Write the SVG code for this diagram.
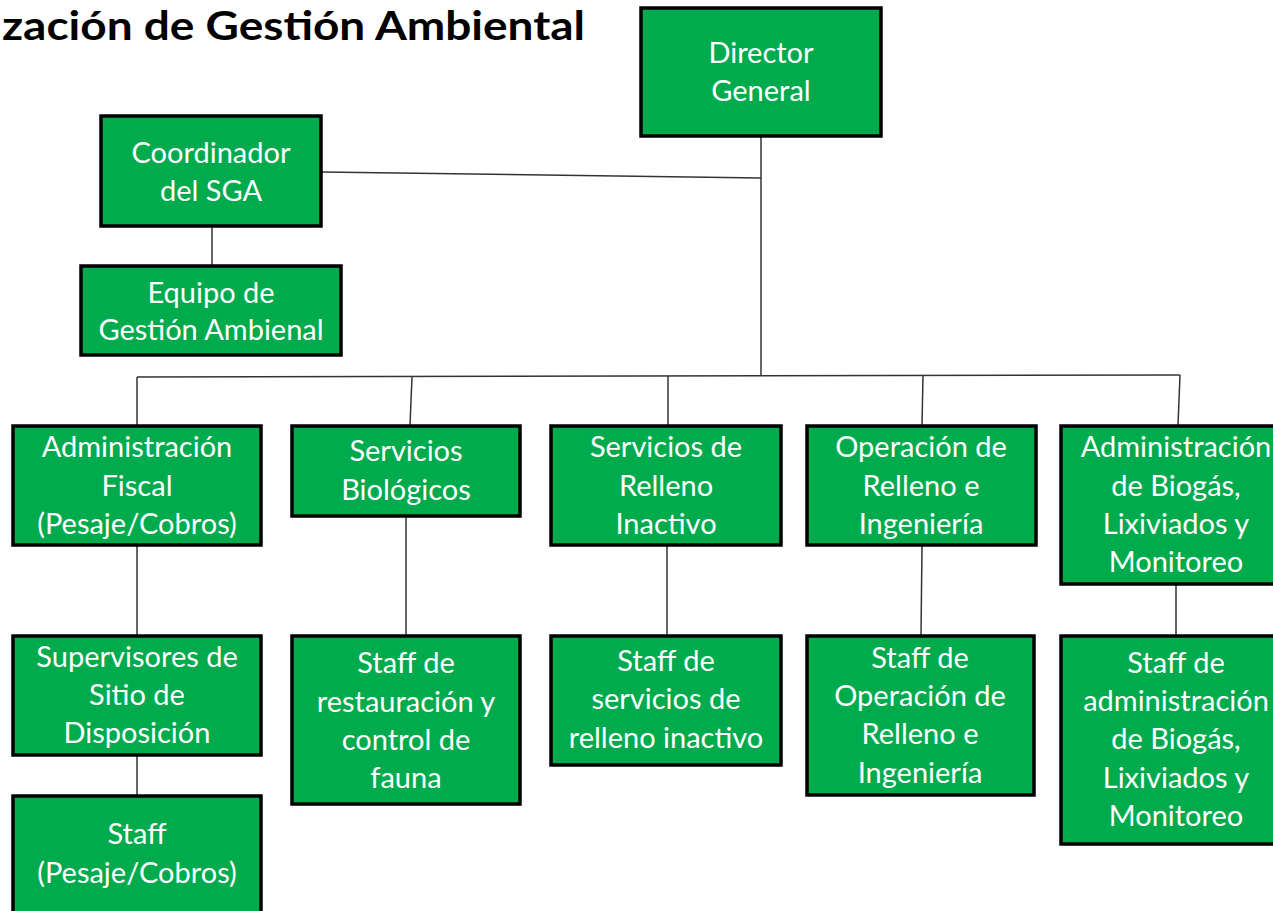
<svg xmlns="http://www.w3.org/2000/svg" width="1273" height="911" viewBox="0 0 1273 911">
<style>
.box{fill:#00AB4E;stroke:#000;stroke-width:3.5}
.t{font-family:Lato,"Open Sans",sans-serif;font-size:29px;fill:#fff;text-anchor:middle}
.title{font-family:Lato,"Open Sans",sans-serif;font-size:40px;font-weight:bold;fill:#000}
.c{stroke:#333;stroke-width:1.5;fill:none}
</style>
<rect width="1273" height="911" fill="#fff"/>
<text class="title" x="2" y="40" textLength="583" lengthAdjust="spacingAndGlyphs">zación de Gestión Ambiental</text>
<g id="connectors">
<path class="c" d="M761 137 V376"/>
<path class="c" d="M322 172 L761 178"/>
<path class="c" d="M212 227 V265"/>
<path class="c" d="M137 377 L1180 375"/>
<path class="c" d="M137 377 V425"/>
<path class="c" d="M412 377 L410 425"/>
<path class="c" d="M668 376 V425"/>
<path class="c" d="M923 376 L922 425"/>
<path class="c" d="M1180 375 L1178 425"/>
<path class="c" d="M137 546 V635"/>
<path class="c" d="M137 756 V795"/>
<path class="c" d="M406 517 V635"/>
<path class="c" d="M667 546 V635"/>
<path class="c" d="M922 546 L921 635"/>
<path class="c" d="M1176 585 V635"/>
</g>
<g id="director"><rect class="box" x="641" y="8" width="240" height="128"/><text class="t" x="761" y="63">Director</text><text class="t" x="761" y="101">General</text></g>
<g id="coordinador"><rect class="box" x="101" y="116" width="220" height="110"/><text class="t" x="211" y="163">Coordinador</text><text class="t" x="211" y="201">del SGA</text></g>
<g id="equipo"><rect class="box" x="81" y="266" width="260" height="89"/><text class="t" x="211" y="303">Equipo de</text><text class="t" x="211" y="340">Gestión Ambienal</text></g>
<g id="admin-fiscal"><rect class="box" x="13" y="426" width="248" height="119"/><text class="t" x="137" y="457">Administración</text><text class="t" x="137" y="496">Fiscal</text><text class="t" x="137" y="534">(Pesaje/Cobros)</text></g>
<g id="servicios-biologicos"><rect class="box" x="292" y="426" width="228" height="90"/><text class="t" x="406" y="461">Servicios</text><text class="t" x="406" y="500">Biológicos</text></g>
<g id="servicios-relleno"><rect class="box" x="551" y="426" width="230" height="119"/><text class="t" x="666" y="457">Servicios de</text><text class="t" x="666" y="496">Relleno</text><text class="t" x="666" y="534">Inactivo</text></g>
<g id="operacion"><rect class="box" x="807" y="426" width="229" height="119"/><text class="t" x="921" y="457">Operación de</text><text class="t" x="921" y="496">Relleno e</text><text class="t" x="921" y="534">Ingeniería</text></g>
<g id="admin-biogas"><rect class="box" x="1061" y="426" width="230" height="158"/><text class="t" x="1176" y="457">Administración</text><text class="t" x="1176" y="496">de Biogás,</text><text class="t" x="1176" y="534">Lixiviados y</text><text class="t" x="1176" y="572">Monitoreo</text></g>
<g id="supervisores"><rect class="box" x="13" y="636" width="248" height="119"/><text class="t" x="137" y="667">Supervisores de</text><text class="t" x="137" y="705">Sitio de</text><text class="t" x="137" y="743">Disposición</text></g>
<g id="staff-pesaje"><rect class="box" x="13" y="796" width="248" height="130"/><text class="t" x="137" y="844">Staff</text><text class="t" x="137" y="883">(Pesaje/Cobros)</text></g>
<g id="staff-restauracion"><rect class="box" x="292" y="636" width="228" height="168"/><text class="t" x="406" y="673">Staff de</text><text class="t" x="406" y="712">restauración y</text><text class="t" x="406" y="750">control de</text><text class="t" x="406" y="788">fauna</text></g>
<g id="staff-servicios"><rect class="box" x="551" y="636" width="230" height="129"/><text class="t" x="666" y="671">Staff de</text><text class="t" x="666" y="709">servicios de</text><text class="t" x="666" y="748">relleno inactivo</text></g>
<g id="staff-operacion"><rect class="box" x="807" y="636" width="227" height="159"/><text class="t" x="920" y="668">Staff de</text><text class="t" x="920" y="706">Operación de</text><text class="t" x="920" y="744">Relleno e</text><text class="t" x="920" y="783">Ingeniería</text></g>
<g id="staff-biogas"><rect class="box" x="1061" y="636" width="230" height="208"/><text class="t" x="1176" y="673">Staff de</text><text class="t" x="1176" y="711">administración</text><text class="t" x="1176" y="749">de Biogás,</text><text class="t" x="1176" y="788">Lixiviados y</text><text class="t" x="1176" y="826">Monitoreo</text></g>
</svg>
